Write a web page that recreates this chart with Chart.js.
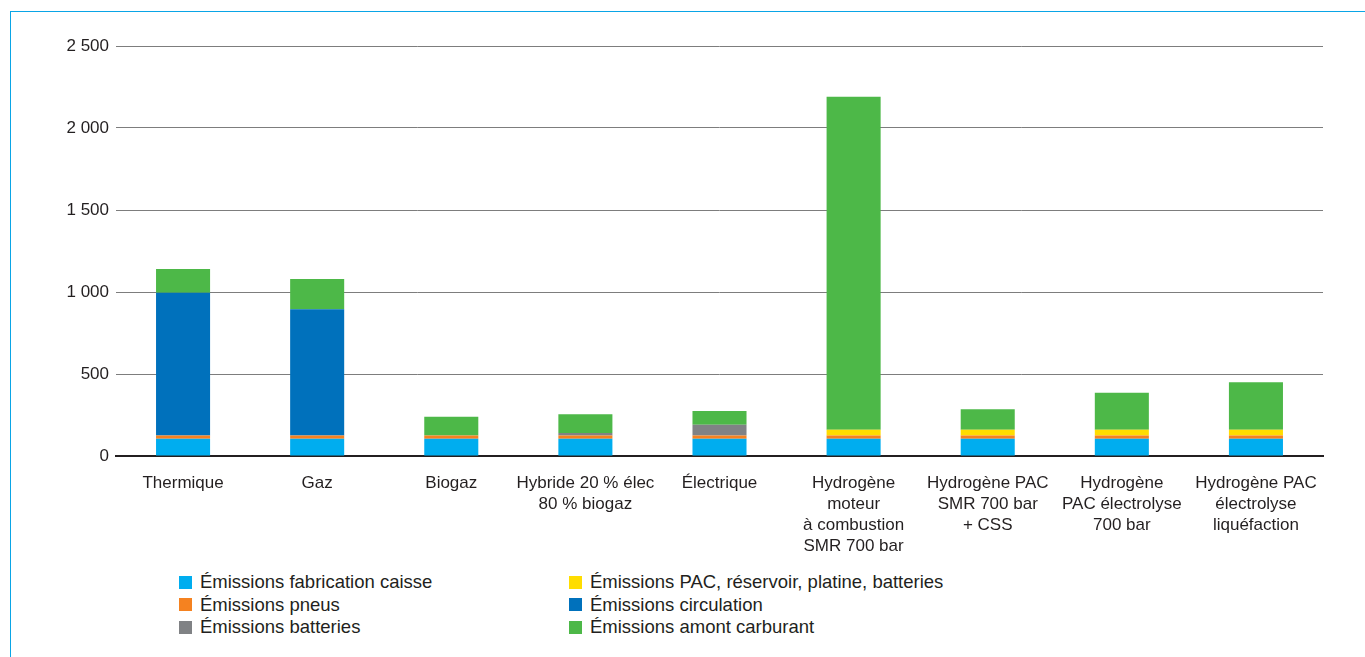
<!DOCTYPE html>
<html lang="fr">
<head>
<meta charset="utf-8">
<title>Émissions par motorisation</title>
<script src="https://cdn.jsdelivr.net/npm/chart.js@4.4.1/dist/chart.umd.min.js"></script>
<style>
  html, body { margin: 0; padding: 0; background: #fff; }
  body { width: 1365px; height: 657px; position: relative; overflow: hidden; font-family: "Liberation Sans", Arial, sans-serif; color: #231f20; }
  .frame { position: absolute; left: 10px; top: 11px; right: 0; bottom: 0; border-top: 1px solid #0aa5e6; border-left: 1px solid #0aa5e6; }
  .wrap { position: absolute; left: 0; top: 0; width: 1365px; height: 560px; }
  .lg-item { position: absolute; display: flex; align-items: center; font-size: 18.5px; line-height: 22px; white-space: nowrap; }
  .lg-box { width: 13px; height: 13px; margin-right: 8px; flex: none; }
</style>
</head>
<body>
<div class="frame"></div>
<div class="wrap"><canvas id="chart"></canvas></div>
<div id="legend"></div>
<script>
/* Émissions par type de motorisation — barres empilées */
const CATEGORIES = [
  'Thermique',
  'Gaz',
  'Biogaz',
  ['Hybride 20 % élec', '80 % biogaz'],
  'Électrique',
  ['Hydrogène', 'moteur', 'à combustion', 'SMR 700 bar'],
  ['Hydrogène PAC', 'SMR 700 bar', '+ CSS'],
  ['Hydrogène', 'PAC électrolyse', '700 bar'],
  ['Hydrogène PAC', 'électrolyse', 'liquéfaction'],
];

const FABRICATION_CAISSE = [105, 105, 105, 105, 105, 105, 105, 105, 105];
const PNEUS              = [20, 20, 20, 20, 20, 20, 20, 20, 20];
const BATTERIES          = [0, 0, 0, 15, 65, 0, 0, 0, 0];
const PAC_RESERVOIR      = [0, 0, 0, 0, 0, 35, 35, 35, 35];
const CIRCULATION        = [870, 770, 0, 0, 0, 0, 0, 0, 0];
const AMONT_CARBURANT    = [145, 185, 115, 115, 85, 2030, 125, 225, 290];

const Y_TICKS = [0, 500, 1000, 1500, 2000, 2500];

(function () {
  'use strict';
  const $ = (id) => document.getElementById(id);
  const FONT = '"Liberation Sans", Arial, sans-serif';
  const INK = '#231f20';
  const fmt = (n) => String(n).replace(/\B(?=(\d{3})+(?!\d))/g, ' ');

  const series = [
    { label: 'Émissions fabrication caisse', data: FABRICATION_CAISSE, color: '#00adef' },
    { label: 'Émissions pneus', data: PNEUS, color: '#f58220' },
    { label: 'Émissions batteries', data: BATTERIES, color: '#808285' },
    { label: 'Émissions PAC, réservoir, platine, batteries', data: PAC_RESERVOIR, color: '#ffdd00' },
    { label: 'Émissions circulation', data: CIRCULATION, color: '#0071bc' },
    { label: 'Émissions amont carburant', data: AMONT_CARBURANT, color: '#4db848' },
  ];

  new Chart($('chart').getContext('2d'), {
    type: 'bar',
    data: {
      labels: CATEGORIES,
      datasets: series.map((s) => ({
        label: s.label, data: s.data, backgroundColor: s.color, borderWidth: 0,
        barPercentage: 0.403, categoryPercentage: 1,
      })),
    },
    options: {
      responsive: true,
      maintainAspectRatio: false,
      animation: false,
      layout: { padding: { top: 46, right: 42, left: 0, bottom: 0 } },
      plugins: { legend: { display: false }, tooltip: { enabled: false } },
      scales: {
        x: {
          stacked: true,
          grid: { display: false },
          border: { display: true, color: INK, width: 2 },
          ticks: { color: INK, font: { family: FONT, size: 17, lineHeight: 1.24 }, padding: 9, maxRotation: 0, autoSkip: false },
          afterFit: (s) => { s.height = 104; },
        },
        y: {
          stacked: true,
          min: Y_TICKS[0],
          max: Y_TICKS[Y_TICKS.length - 1],
          afterBuildTicks: (s) => { s.ticks = Y_TICKS.map((v) => ({ value: v })); },
          grid: { color: (c) => (c.tick && c.tick.value === 0 ? 'rgba(0,0,0,0)' : '#7d7d7d'), lineWidth: 1, drawTicks: false },
          border: { display: false },
          ticks: { color: INK, font: { family: FONT, size: 17 }, padding: 7, callback: (v) => fmt(v) },
          afterFit: (s) => { s.width = 116; },
        },
      },
    },
  });

  // légende en deux colonnes, comme la maquette
  const lg = $('legend');
  series.forEach((s, i) => {
    const col = i < 3 ? 0 : 1;
    const row = i % 3;
    const el = document.createElement('div');
    el.className = 'lg-item';
    el.style.left = (col ? 569 : 179) + 'px';
    el.style.top = (571 + row * 22.5) + 'px';
    el.innerHTML = '<span class="lg-box" style="background:' + s.color + '"></span><span>' + s.label + '</span>';
    lg.appendChild(el);
  });
})();
</script>
</body>
</html>
